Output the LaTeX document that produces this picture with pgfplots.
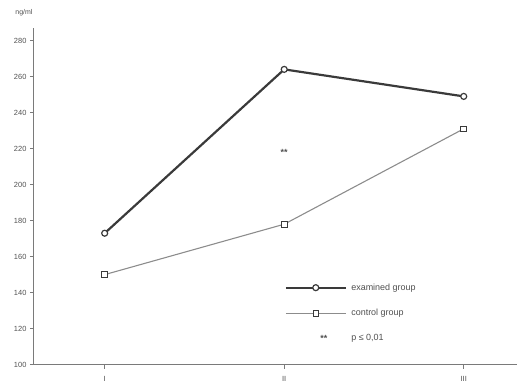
\documentclass[border=0pt]{standalone}
\usepackage{fontspec}
\setmainfont{Liberation Sans}
\usepackage{pgfplots}
\pgfplotsset{compat=1.18}
\definecolor{exam}{HTML}{3A3A3A}
\definecolor{ctrl}{HTML}{8C8C8C}
\definecolor{axc}{HTML}{7A7A7A}
\definecolor{txt}{HTML}{505050}
\begin{document}
\begin{tikzpicture}
\begin{axis}[
  at={(0,0)}, anchor=south west,
  scale only axis,
  width=483bp, height=337bp,
  xmin=-0.394, xmax=2.294,
  ymin=100, ymax=287,
  axis x line=bottom, axis y line=left,
  axis line style={axc, line width=1pt, -},
  xtick={0,1,2}, xticklabels={I,II,III},
  ytick={100,120,...,280},
  tick style={axc, line width=0.7pt},
  tick align=outside,
  major tick length=4bp,
  tick label style={font=\fontsize{7.5}{8}\selectfont, text=txt},
  xticklabel style={yshift=-4bp},
  /pgf/number format/assume math mode=true,
  clip=false,
  legend cell align=left,
  legend style={draw=none, fill=none, font=\fontsize{9}{10}\selectfont, text=txt,
    at={(axis cs:0.985,128.4)}, anchor=west, row sep=17.5bp,
    nodes={inner xsep=4.5bp, inner ysep=0pt}},
  legend image code/.code={
    \draw[#1, mark=none] (0bp,0bp) -- (60bp,0bp);
    \draw[#1, only marks] plot coordinates {(30bp,0bp)};
  },
]
\addplot[exam, line width=2.2pt, mark=*, mark size=3bp, mark options={fill=white, draw=exam, line width=1.2pt}]
  coordinates {(0,173) (1,264) (2,249)};
\addlegendentry{examined group}
\addplot[ctrl, line width=1.1pt, mark=square*, mark size=2.8bp, mark options={fill=white, draw=exam, line width=0.9pt}]
  coordinates {(0,150) (1,178) (2,231)};
\addlegendentry{control group}
\addlegendimage{legend image code/.code={\node[text=txt, font=\fontsize{9}{10}\selectfont\bfseries] at (30bp,-1bp) {**};}}
\addlegendentry{p ≤ 0,01}
\node[text=txt, font=\fontsize{9}{10}\selectfont\bfseries] at (axis cs:1,218) {**};
\node[text=txt, font=\fontsize{7}{8}\selectfont] at (rel axis cs:0,1) [xshift=-10bp, yshift=15bp] {ng/ml};
\end{axis}
\useasboundingbox (-34bp,-23bp) rectangle (483bp,365bp);
\end{tikzpicture}
\end{document}
